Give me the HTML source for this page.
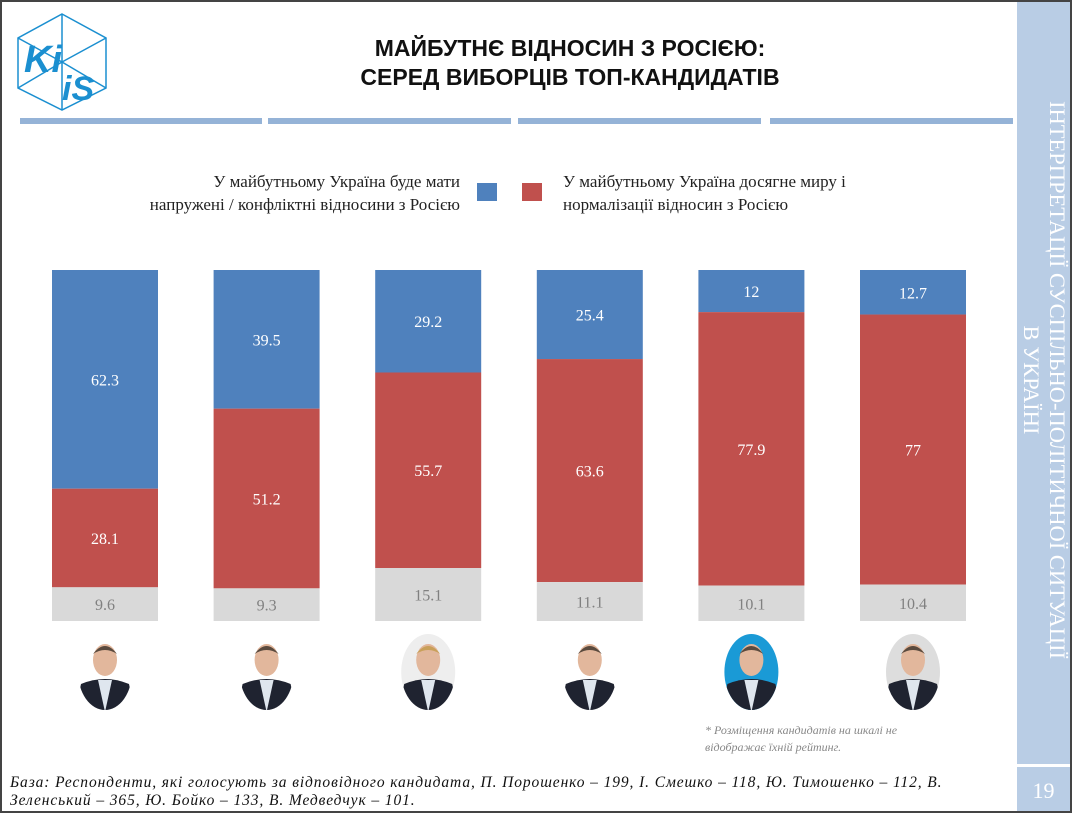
<!DOCTYPE html>
<html><head><meta charset="utf-8"><style>
body{margin:0;width:1072px;height:813px;overflow:hidden;background:#fff;position:relative;font-family:"Liberation Serif","DejaVu Serif",serif}
.abs{position:absolute}
</style></head><body>
<div class="abs" style="left:0;top:0;width:1068px;height:809px;border:2px solid #444;"></div>
<div class="abs" style="left:1017px;top:2px;width:53px;height:809px;background:#b9cde5;"></div>
<div class="abs" style="left:1017px;top:764px;width:53px;height:3px;background:#fff;"></div>
<div class="abs" style="left:1017px;top:778px;width:53px;text-align:center;color:#fff;font-size:22px;">19</div>
<div class="abs" style="left:1044px;top:380px;width:640px;transform:translate(-50%,-50%) rotate(90deg);color:#fff;font-size:22.5px;line-height:26px;text-align:center;white-space:nowrap;">ІНТЕРПРЕТАЦІЇ СУСПІЛЬНО-ПОЛІТИЧНОЇ СИТУАЦІЇ<br>В УКРАЇНІ</div>

<svg class="abs" style="left:14px;top:12px" width="96" height="100" viewBox="0 0 96 100">
<g fill="none" stroke="#1b8fd0" stroke-width="1.5"><polygon points="48,2 92,26 92,76 48,98 4,76 4,26"/><line x1="4" y1="26" x2="48" y2="50"/><line x1="92" y1="26" x2="48" y2="50"/><line x1="48" y1="50" x2="48" y2="98"/><line x1="48" y1="2" x2="48" y2="50"/><line x1="4" y1="76" x2="48" y2="50"/><line x1="92" y1="76" x2="48" y2="50"/></g>
<text x="10" y="60" font-family="Liberation Sans,sans-serif" font-weight="bold" font-style="italic" font-size="38" fill="#1b8fd0">Ki</text>
<text x="48" y="88" font-family="Liberation Sans,sans-serif" font-weight="bold" font-style="italic" font-size="34" fill="#1b8fd0">iS</text>
</svg>
<div class="abs" style="left:230px;top:34px;width:680px;text-align:center;font-family:'Liberation Sans Narrow','Liberation Sans',sans-serif;font-weight:bold;font-size:23px;line-height:29px;color:#111;">МАЙБУТНЄ ВІДНОСИН З РОСІЄЮ:<br>СЕРЕД ВИБОРЦІВ ТОП-КАНДИДАТІВ</div>
<div class="abs" style="left:20px;top:118px;width:242px;height:6px;background:#95b3d7"></div>
<div class="abs" style="left:268px;top:118px;width:243px;height:6px;background:#95b3d7"></div>
<div class="abs" style="left:518px;top:118px;width:243px;height:6px;background:#95b3d7"></div>
<div class="abs" style="left:770px;top:118px;width:243px;height:6px;background:#95b3d7"></div>

<div class="abs" style="left:40px;top:170px;width:420px;text-align:right;font-size:17px;line-height:23px;color:#222;">У майбутньому Україна буде мати<br>напружені / конфліктні відносини з Росією</div>
<div class="abs" style="left:477px;top:183px;width:20px;height:18px;background:#4f81bd"></div>
<div class="abs" style="left:522px;top:183px;width:20px;height:18px;background:#c0504d"></div>
<div class="abs" style="left:563px;top:170px;width:420px;font-size:17px;line-height:23px;color:#222;">У майбутньому Україна досягне миру і<br>нормалізації відносин з Росією</div>

<svg id="chart" class="abs" style="left:0;top:0" width="1017" height="813"></svg>

<div class="abs" style="left:705px;top:722px;width:250px;font-size:12px;font-style:italic;color:#888;line-height:17px;">* Розміщення кандидатів на шкалі не відображає їхній рейтинг.</div>
<div class="abs" style="left:10px;top:774px;width:1000px;font-size:15.5px;letter-spacing:0.9px;font-style:italic;color:#111;line-height:18px;">База: Респонденти, які голосують за відповідного кандидата, П. Порошенко – 199, І. Смешко – 118, Ю. Тимошенко – 112, В.<br>Зеленський – 365, Ю. Бойко – 133, В. Медведчук – 101.</div>

<script>
const candidates=["Порошенко","Смешко","Тимошенко","Зеленський","Бойко","Медведчук"];
const conflict=[62.3,39.5,29.2,25.4,12,12.7];
const peace=[28.1,51.2,55.7,63.6,77.9,77];
const unsure=[9.6,9.3,15.1,11.1,10.1,10.4];
const labelsConflict=["62.3","39.5","29.2","25.4","12","12.7"];
const labelsPeace=["28.1","51.2","55.7","63.6","77.9","77"];
const labelsUnsure=["9.6","9.3","15.1","11.1","10.1","10.4"];
const photoBg=["#fff","#fff","#eee","#fff","#1a9ad6","#ddd"];

const svg=document.getElementById('chart');
const NS='http://www.w3.org/2000/svg';
const top0=270,bot0=621,x0=52,step=161.6,bw=106;
function xPos(i){return x0+i*step;}
function yScale(frac){return top0+frac*(bot0-top0);}
function mk(t,a){const e=document.createElementNS(NS,t);for(const k in a)e.setAttribute(k,a[k]);svg.appendChild(e);return e;}
candidates.forEach((c,i)=>{
  const tot=conflict[i]+peace[i]+unsure[i];
  const segs=[[conflict[i],'#4f81bd','#fff',labelsConflict[i],'conflict'],[peace[i],'#c0504d','#fff',labelsPeace[i],'peace'],[unsure[i],'#d9d9d9','#808080',labelsUnsure[i],'unsure']];
  let acc=0;
  segs.forEach(s=>{
    const ya=yScale(acc/tot),yb=yScale((acc+s[0])/tot);acc+=s[0];
    const r=mk('rect',{x:xPos(i),y:ya,width:bw,height:yb-ya,fill:s[1]});
    
    
    const t=mk('text',{x:xPos(i)+bw/2,y:(ya+yb)/2+6,'text-anchor':'middle','font-size':'16','font-family':'Liberation Serif, serif',fill:s[2]});
    t.textContent=s[3];
    
    
  });
  const cx=xPos(i)+bw/2,cy=672;
  const g=document.createElementNS(NS,'g');svg.appendChild(g);
  
  
  const add=(t,a)=>{const e=document.createElementNS(NS,t);for(const k in a)e.setAttribute(k,a[k]);g.appendChild(e);};
  add('clipPath',{id:'cp'+i});
  const ce=document.createElementNS(NS,'ellipse');g.lastChild.appendChild(ce);
  ce.setAttribute('cx',cx);ce.setAttribute('cy',cy);ce.setAttribute('rx',27);ce.setAttribute('ry',38);
  add('ellipse',{cx:cx,cy:cy,rx:27,ry:38,fill:photoBg[i]});
  const g2=document.createElementNS(NS,'g');g2.setAttribute('clip-path','url(#cp'+i+')');g.appendChild(g2);
  const a2=(t,a)=>{const e=document.createElementNS(NS,t);for(const k in a)e.setAttribute(k,a[k]);g2.appendChild(e);};
  a2('path',{d:`M${cx-30} ${cy+40} L${cx-24} ${cy+12} Q${cx} ${cy+2} ${cx+24} ${cy+12} L${cx+30} ${cy+40}Z`,fill:'#1f2330'});
  a2('path',{d:`M${cx-7} ${cy+8} L${cx} ${cy+40} L${cx+7} ${cy+8}Z`,fill:'#dfe6ee'});
  a2('ellipse',{cx:cx,cy:cy-12,rx:12,ry:16,fill:'#e2b79c'});
  a2('path',{d:`M${cx-12} ${cy-18} Q${cx} ${cy-34} ${cx+12} ${cy-18} Q${cx} ${cy-26} ${cx-12} ${cy-18}Z`,fill:i==2?'#c9a05a':'#5a4a3e'});
});
</script>
</body></html>
